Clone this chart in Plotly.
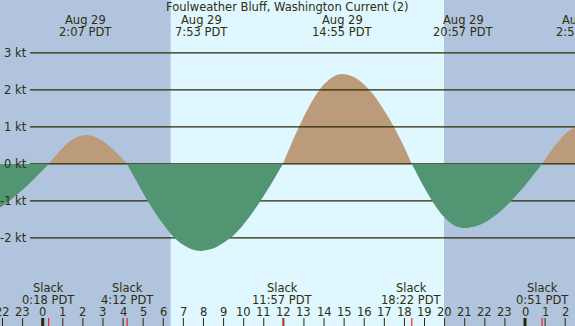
import plotly.graph_objects as go

# ---------------- data ----------------
title = "Foulweather Bluff, Washington Current (2)"
# hours relative to midnight starting Aug 29 (negative = Aug 28)
hours = [-2.125, -2.0, -1.5, -1.0, -0.5, 0.0, 0.3,
         0.5, 1.0, 1.5, 2.117, 2.5, 3.0, 3.5, 4.0, 4.2,
         4.5, 5.0, 5.5, 6.0, 6.5, 7.0, 7.5, 7.883, 8.5, 9.0, 9.5, 10.0, 10.5, 11.0, 11.5, 11.95,
         12.0, 12.5, 13.0, 13.5, 14.0, 14.5, 14.917, 15.5, 16.0, 16.5, 17.0, 17.5, 18.0, 18.367,
         18.5, 19.0, 19.5, 20.0, 20.5, 20.95, 21.5, 22.0, 22.5, 23.0, 23.5, 24.0, 24.5, 24.85,
         25.0, 25.5, 26.0, 26.5]
knots = [-1.18, -1.14, -0.93, -0.70, -0.44, -0.17, 0.0,
         0.13, 0.44, 0.67, 0.78, 0.75, 0.61, 0.39, 0.12, 0.0,
         -0.30, -0.79, -1.24, -1.63, -1.97, -2.19, -2.32, -2.35, -2.28, -2.13, -1.93, -1.63, -1.27, -0.86, -0.42, 0.0,
         0.06, 0.70, 1.28, 1.78, 2.15, 2.37, 2.43, 2.34, 2.14, 1.84, 1.44, 0.98, 0.44, 0.0,
         -0.14, -0.65, -1.10, -1.45, -1.67, -1.73, -1.69, -1.58, -1.40, -1.17, -0.89, -0.58, -0.24, 0.0,
         0.12, 0.50, 0.81, 1.0]

max_times = [2.117, 7.883, 14.917, 20.95, 26.883]
max_labels = ["2:07 PDT", "7:53 PDT", "14:55 PDT", "20:57 PDT", "2:53 PDT"]
max_dates = ["Aug 29", "Aug 29", "Aug 29", "Aug 29", "Aug 30"]
slack_times = [0.3, 4.2, 11.95, 18.367, 24.85]
slack_labels = ["0:18 PDT", "4:12 PDT", "11:57 PDT", "18:22 PDT", "0:51 PDT"]

sunrise, sunset = 6.37, 19.97
hour_ticks = list(range(-2, 27))
hour_text = [str(h % 24) for h in hour_ticks]
kt_levels = [3, 2, 1, 0, -1, -2]

# ---------------- styles ----------------
W, H = 575, 326
xmin, xmax = -2.125, 26.488
ymin, ymax = -4.38, 4.43
night = "#b0c4de"
day = "#dff7ff"
flood = "#bc9b7b"
ebb = "#519572"
ink = "#2e2e10"
gridc = "#2a2a00"
font = "DejaVu Sans"
fs = 11.5

def tx(t):
    return (t - xmin) / (xmax - xmin)

def py(px):
    return 1 - px / H

fig = go.Figure()

# split curve into lobes at zero points
segs = []
cur_x, cur_y = [hours[0]], [knots[0]]
for t, v in zip(hours[1:], knots[1:]):
    cur_x.append(t); cur_y.append(v)
    if v == 0:
        segs.append((cur_x, cur_y))
        cur_x, cur_y = [t], [v]
if len(cur_x) > 1:
    segs.append((cur_x, cur_y))

pos = [s for s in segs if max(s[1]) > 0]
neg = [s for s in segs if min(s[1]) < 0]

for sx, sy in pos:
    fig.add_trace(go.Scatter(x=sx, y=sy, mode="lines", line=dict(color=flood, width=0, shape="spline"),
                             fill="tozeroy", fillcolor=flood, hoverinfo="skip", showlegend=False))

# gridlines (between flood and ebb fills)
gx_start = xmin + 30 / W * (xmax - xmin)
gx, gy = [], []
for k in kt_levels:
    gx += [gx_start, xmax, None]
    gy += [k, k, None]
fig.add_trace(go.Scatter(x=gx, y=gy, mode="lines", line=dict(color=gridc, width=1.2),
                         hoverinfo="skip", showlegend=False))

for sx, sy in neg:
    fig.add_trace(go.Scatter(x=sx, y=sy, mode="lines", line=dict(color=ebb, width=0, shape="spline"),
                             fill="tozeroy", fillcolor=ebb, hoverinfo="skip", showlegend=False))

shapes = [dict(type="rect", xref="x", yref="paper", x0=sunrise, x1=sunset, y0=0, y1=1,
               fillcolor=day, line=dict(width=0), layer="below")]
tick_top = (H - 318) / H
for h in hour_ticks:
    shapes.append(dict(type="line", xref="x", yref="paper", x0=h, x1=h, y0=0, y1=tick_top,
                       line=dict(color=gridc, width=3 if h % 24 == 0 else 1)))
for s in slack_times:
    shapes.append(dict(type="line", xref="x", yref="paper", x0=s, x1=s, y0=0, y1=tick_top,
                       line=dict(color="#ff0000", width=1)))

def label(text, x, y, xref="paper", yref="paper", xanchor="center"):
    return dict(text=text, xref=xref, yref=yref, x=x, y=y, showarrow=False,
                xanchor=xanchor, yanchor="middle", font=dict(size=fs, color=ink, family=font))

ann = [label(title, 0.5, py(7.5))]
for t, d, l in zip(max_times, max_dates, max_labels):
    ann.append(label(d, tx(t), py(20)))
    ann.append(label(l, tx(t), py(31.5)))
for t, l in zip(slack_times, slack_labels):
    ann.append(label("Slack", tx(t), py(287.5)))
    ann.append(label(l, tx(t), py(299.5)))
for h, s in zip(hour_ticks, hour_text):
    ann.append(label(s, h, py(311.5), xref="x"))
for k in kt_levels:
    ann.append(label(f"{k} kt", 28.5 / W, k, yref="y", xanchor="right"))

fig.update_layout(
    width=W, height=H, margin=dict(l=0, r=0, t=0, b=0),
    paper_bgcolor=night, plot_bgcolor=night,
    xaxis=dict(range=[xmin, xmax], visible=False, fixedrange=True),
    yaxis=dict(range=[ymin, ymax], visible=False, fixedrange=True),
    shapes=shapes, annotations=ann, showlegend=False,
)
fig.write_html("out.html", config={"displayModeBar": False},
               post_script="document.body.style.margin='0';document.body.style.overflow='hidden';")
